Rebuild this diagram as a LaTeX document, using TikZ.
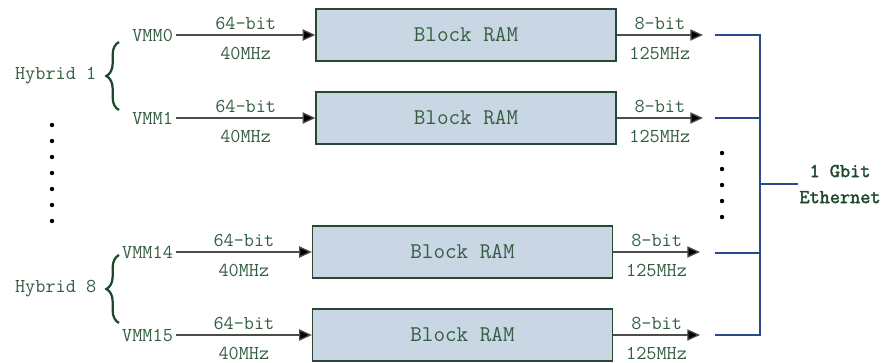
\documentclass[tikz,border=0pt]{standalone}
\usepackage{fontspec}
\usetikzlibrary{positioning, arrows.meta, decorations.pathreplacing}

\newfontfamily\ethfont[FakeBold=2]{Latin Modern Mono}
\definecolor{txtgreen}{RGB}{52,94,66}
\definecolor{bracegreen}{RGB}{30,72,44}
\definecolor{ramfill}{RGB}{201,214,228}
\definecolor{ramdraw}{RGB}{40,72,52}
\definecolor{busblue}{RGB}{38,74,140}

\begin{document}
\begin{tikzpicture}[
        x=0.025cm, y=-0.025cm,
        font=\ttfamily\fontsize{14}{16}\selectfont,
        ram/.style={draw=ramdraw, line width=0.9pt, fill=ramfill, minimum width=7.5cm, minimum height=1.3cm, text=txtgreen, font=\ttfamily\fontsize{16}{18}\selectfont},
        vmm/.style={anchor=east, text=txtgreen, inner sep=2pt},
        lbl/.style={text=txtgreen, inner sep=3pt},
        inarrow/.style={draw=black!70, line width=0.9pt, -{Triangle[length=9pt, width=8pt, fill=black]}},
        bus/.style={draw=busblue, line width=1.3pt},
        hbrace/.style={draw=bracegreen, line width=1.6pt, decorate, decoration={brace, amplitude=9pt}}
    ]
    \useasboundingbox (0,0) rectangle (885,362);

    % Block RAM
    \node[ram] (ram_1) at (466,35) {Block RAM};
    \node[ram] (ram_2) at (466,118) {Block RAM};
    \node[ram] (ram_3) at (462.5,252) {Block RAM};
    \node[ram] (ram_4) at (462.5,335) {Block RAM};

    % VMM
    \node[vmm] (vmm_0) at (176,35) {VMM0};
    \node[vmm] (vmm_1) at (176,118) {VMM1};
    \node[vmm] (vmm_14) at (176,252) {VMM14};
    \node[vmm] (vmm_15) at (176,335) {VMM15};

    % 64-bit
    \draw[inarrow] (vmm_0) -- (ram_1) node[lbl, midway, above] {64-bit} node[lbl, midway, below=5pt] {40MHz};
    \draw[inarrow] (vmm_1) -- (ram_2) node[lbl, midway, above] {64-bit} node[lbl, midway, below=5pt] {40MHz};
    \draw[inarrow] (vmm_14) -- (ram_3) node[lbl, midway, above] {64-bit} node[lbl, midway, below=5pt] {40MHz};
    \draw[inarrow] (vmm_15) -- (ram_4) node[lbl, midway, above] {64-bit} node[lbl, midway, below=5pt] {40MHz};

    % 8-bit
    \coordinate (out_1) at (703,35);
    \coordinate (out_2) at (703,118);
    \coordinate (out_3) at (700,252);
    \coordinate (out_4) at (700,335);
    \draw[inarrow] (ram_1) -- (out_1) node[lbl, midway, above] {8-bit} node[lbl, midway, below=5pt] {125MHz};
    \draw[inarrow] (ram_2) -- (out_2) node[lbl, midway, above] {8-bit} node[lbl, midway, below=5pt] {125MHz};
    \draw[inarrow] (ram_3) -- (out_3) node[lbl, midway, above] {8-bit} node[lbl, midway, below=5pt] {125MHz};
    \draw[inarrow] (ram_4) -- (out_4) node[lbl, midway, above] {8-bit} node[lbl, midway, below=5pt] {125MHz};

    % Hybrid
    \draw[hbrace] (119,110) -- (119,42) coordinate[midway, xshift=-15] (tip_1);
    \draw[hbrace] (119,323) -- (119,255) coordinate[midway, xshift=-15] (tip_8);
    \node[lbl, anchor=east, inner sep=1pt] (hyb_1) at (tip_1) {Hybrid 1};
    \node[lbl, anchor=east, inner sep=1pt] (hyb_8) at (tip_8) {Hybrid 8};

    \foreach \k in {0,...,6}
        \fill (52,125+16*\k) circle (2.2);
    \foreach \k in {0,...,4}
        \fill (722,153+16*\k) circle (2.2);

    % Ethernet
    \node[text=bracegreen, align=center, font=\ethfont\fontsize{14}{18.5}\selectfont, inner sep=1pt] (eth) at (840,184) {1 Gbit\\Ethernet};
    \coordinate (bus_1) at (715,35);
    \coordinate (bus_2) at (715,118);
    \coordinate (bus_3) at (715,253);
    \coordinate (bus_4) at (715,335);
    \coordinate (top) at (760,35);
    \draw[bus] (bus_1) -- (top) |- (bus_4);
    \draw[bus] (bus_2) -- (bus_2 -| top);
    \draw[bus] (bus_3) -- (bus_3 -| top);
    \draw[bus] (eth.west -| top) -- (eth.west);
\end{tikzpicture}
\end{document}
